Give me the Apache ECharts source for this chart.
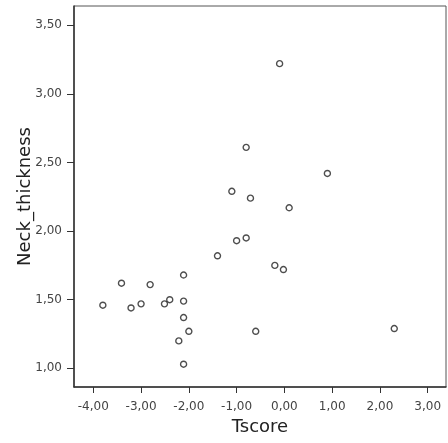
<!DOCTYPE html>
<html>
<head>
  <meta charset="utf-8" />
  <title>Scatter</title>
  <script src="https://cdn.jsdelivr.net/npm/echarts@6/dist/echarts.min.js"></script>
  <style>
    html, body { margin: 0; padding: 0; background: #fff; }
  </style>
</head>
<body>
<div id="main" style="width:448px;height:443px;"></div>
<script type="text/javascript">
  // Tscore / Neck_thickness pairs
  var tscore = [-3.80, -3.41, -3.21, -3.00, -2.81, -2.51, -2.40, -2.11, -2.11, -2.11,
                -2.00, -2.21, -2.11, -1.40, -1.00, -0.80, -0.20, -0.02, -0.60, 2.30,
                -0.10, -0.80, 0.90, -1.10, -0.71, 0.10];
  var neck = [1.46, 1.62, 1.44, 1.47, 1.61, 1.47, 1.50, 1.68, 1.49, 1.37,
              1.27, 1.20, 1.03, 1.82, 1.93, 1.95, 1.75, 1.72, 1.27, 1.29,
              3.22, 2.61, 2.42, 2.29, 2.24, 2.17];
  var xTicks = [-4, -3, -2, -1, 0, 1, 2, 3];
  var yTicks = [1.0, 1.5, 2.0, 2.5, 3.0, 3.5];

  var points = [];
  for (var i = 0; i < tscore.length; i++) {
    points.push([tscore[i], neck[i]]);
  }

  function fmt(v) {
    return v.toFixed(2).replace('.', ',');
  }

  var myChart = echarts.init(document.getElementById('main'));
  var option = {
    animation: false,
    grid: {
      left: 74, top: 6, right: 2, bottom: 56,
      outerBoundsMode: 'none',
      containLabel: false,
      show: true,
      borderColor: '#555',
      borderWidth: 1
    },
    xAxis: {
      type: 'value',
      min: -4.404,
      max: 3.383,
      name: 'Tscore',
      nameLocation: 'middle',
      nameGap: 31,
      nameMoveOverlap: false,
      nameTextStyle: { fontFamily: 'DejaVu Sans', fontSize: 18, color: '#222' },
      splitLine: { show: false },
      axisLine: { show: true, onZero: false, lineStyle: { color: '#333', width: 1.5 } },
      axisTick: { show: true, length: 6, customValues: xTicks, lineStyle: { color: '#333' } },
      axisLabel: {
        customValues: xTicks,
        margin: 14,
        fontFamily: 'DejaVu Sans',
        fontSize: 12,
        color: '#444',
        formatter: fmt
      }
    },
    yAxis: {
      type: 'value',
      min: 0.864,
      max: 3.64,
      name: 'Neck_thickness',
      nameLocation: 'middle',
      nameGap: 40,
      nameMoveOverlap: false,
      nameTextStyle: { fontFamily: 'DejaVu Sans', fontSize: 18, color: '#222' },
      splitLine: { show: false },
      axisLine: { show: true, onZero: false, lineStyle: { color: '#333', width: 1.5 } },
      axisTick: { show: true, length: 7, customValues: yTicks, lineStyle: { color: '#333' } },
      axisLabel: {
        customValues: yTicks,
        margin: 12,
        fontFamily: 'DejaVu Sans',
        fontSize: 12,
        color: '#444',
        formatter: fmt
      }
    },
    series: [
      {
        type: 'scatter',
        data: points,
        symbol: 'circle',
        symbolSize: 6,
        itemStyle: { color: '#fff', borderColor: '#222', borderWidth: 1.4 }
      }
    ]
  };
  myChart.setOption(option);
</script>
</body>
</html>
